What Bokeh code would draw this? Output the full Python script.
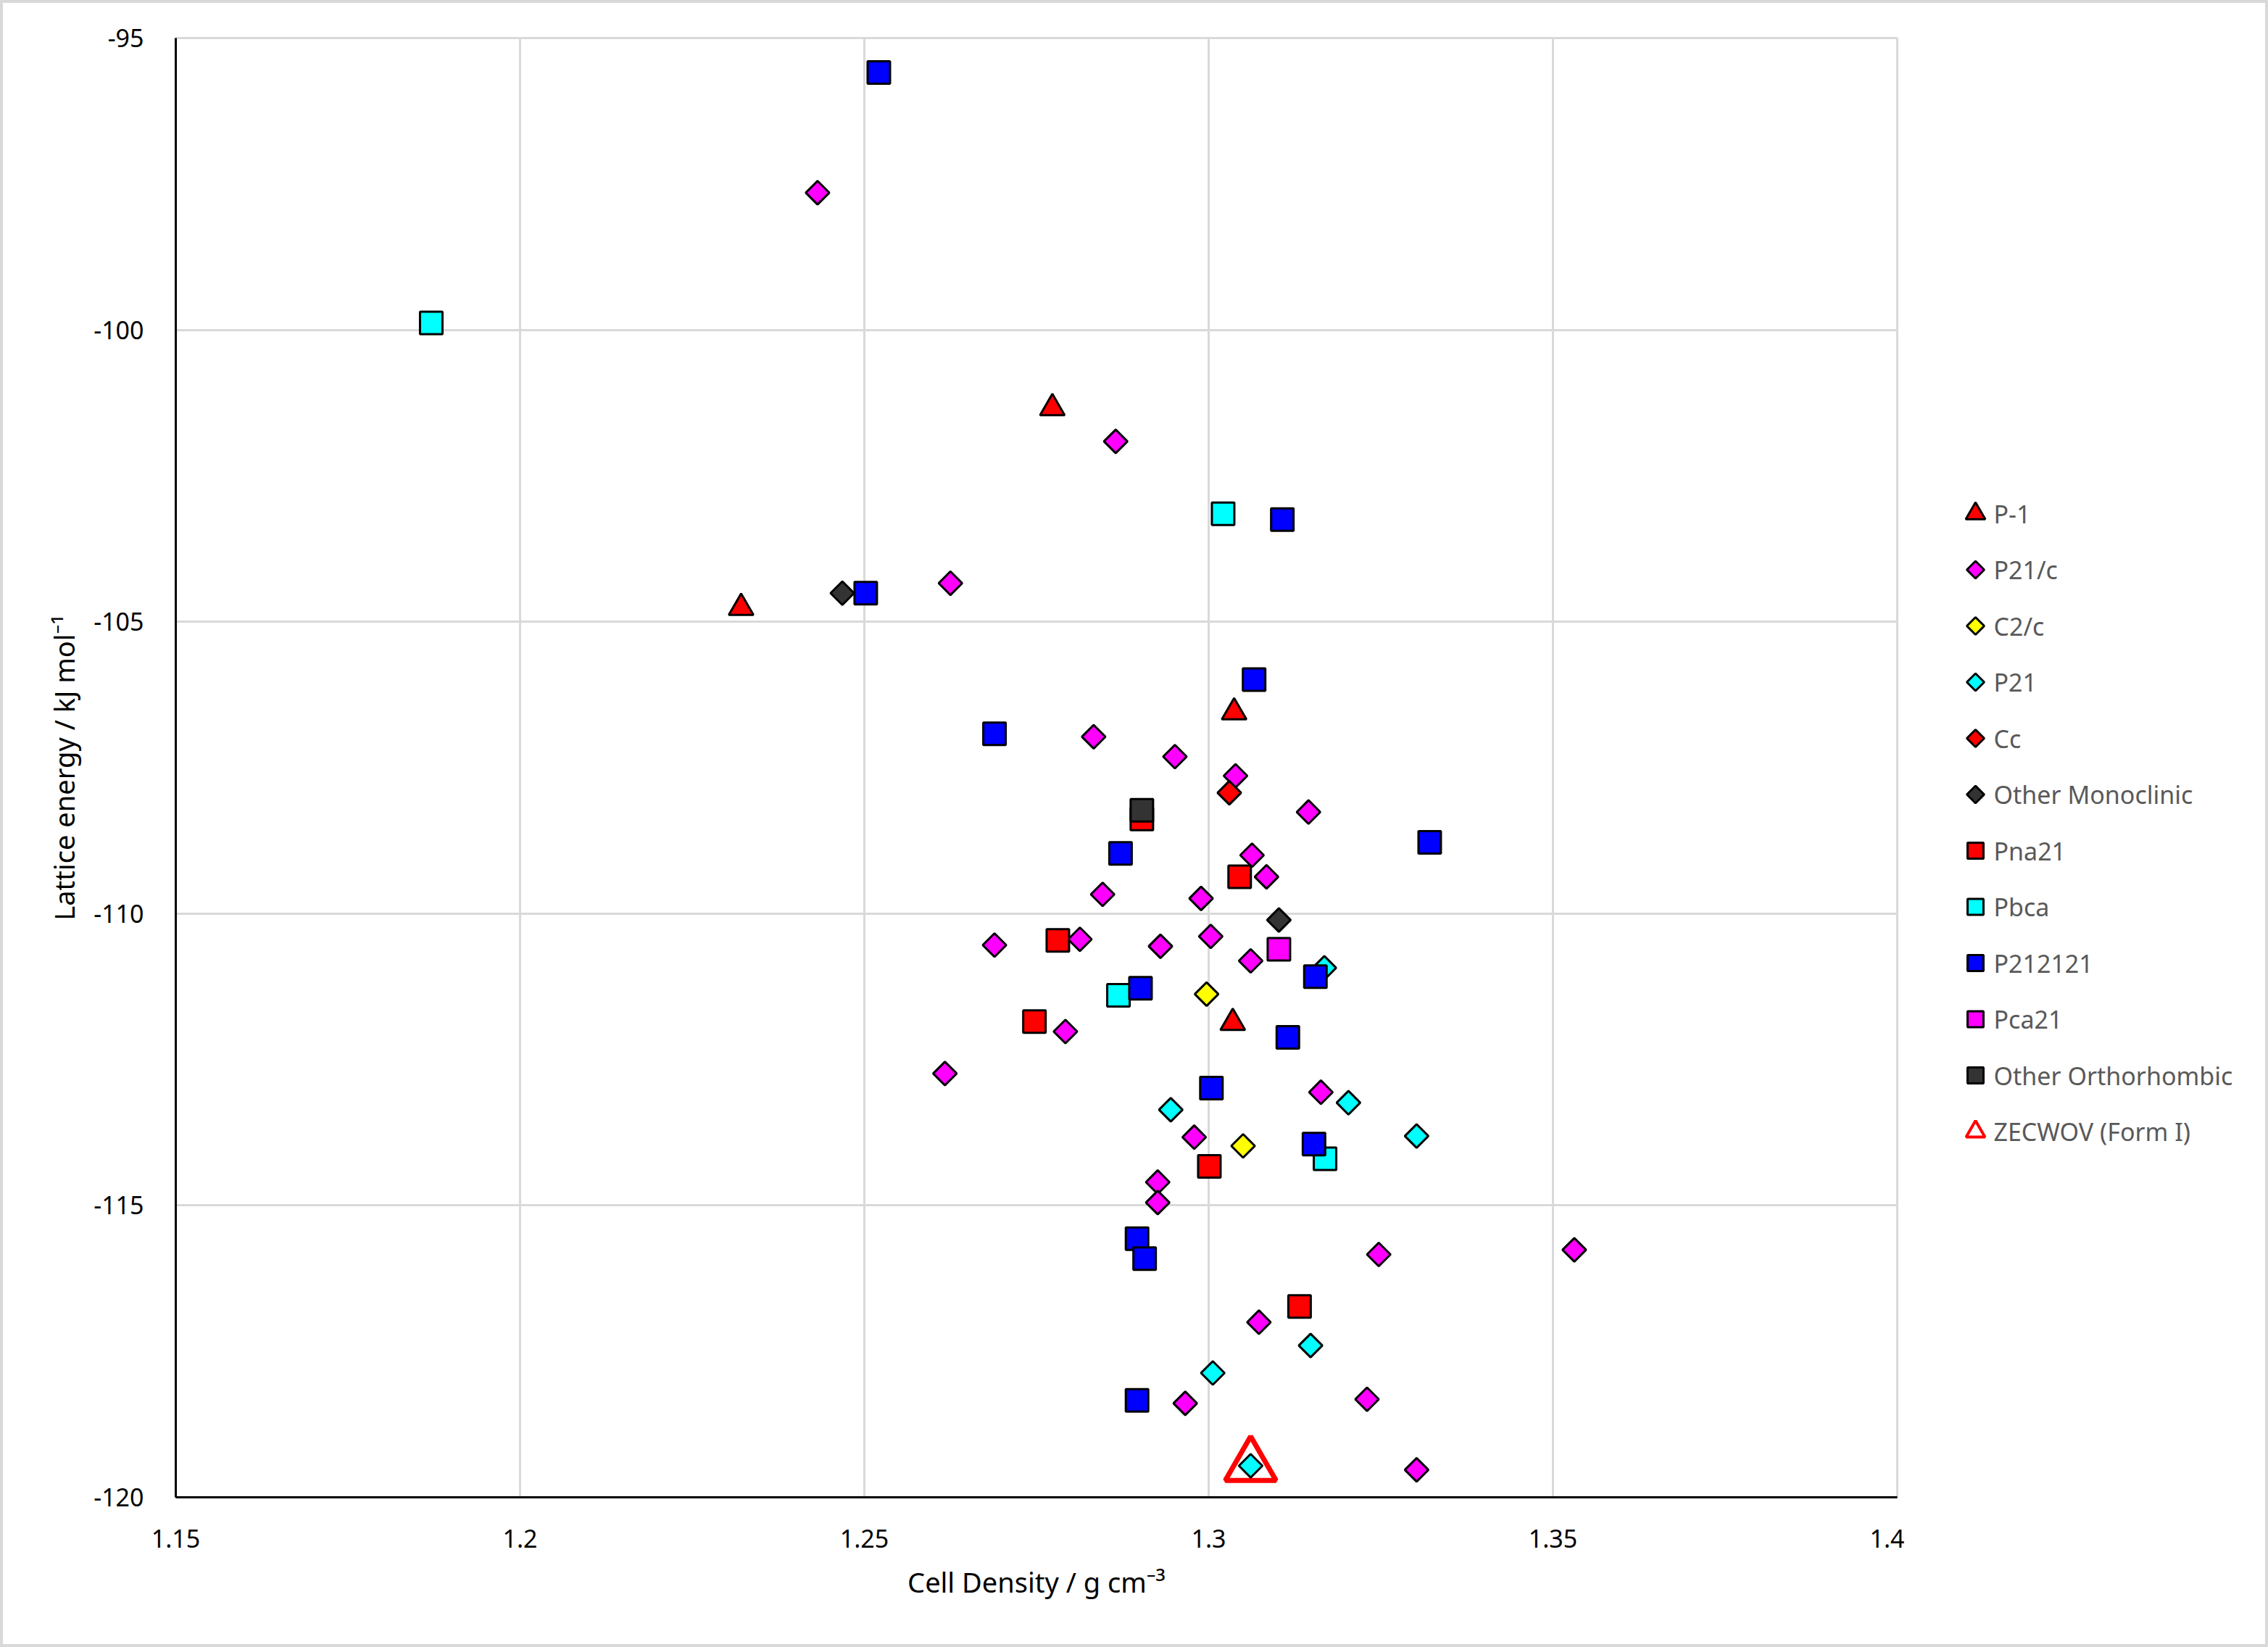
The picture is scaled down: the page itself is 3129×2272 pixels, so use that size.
import numpy as np
from bokeh.plotting import figure
from bokeh.models import Range1d, FixedTicker, ColumnDataSource, Row
from bokeh.core.properties import value
from bokeh.embed import file_html
from bokeh.resources import INLINE

# ---------------- data ----------------
x_ticks = [1.15, 1.2, 1.25, 1.3, 1.35, 1.4]
x_tick_labels = ["1.15", "1.2", "1.25", "1.3", "1.35", "1.4"]
y_ticks = [-120, -115, -110, -105, -100, -95]
y_tick_labels = ["-120", "-115", "-110", "-105", "-100", "-95"]

p1_density = [1.2773, 1.2321, 1.3037, 1.3035]
p1_energy = [-101.34, -104.76, -106.55, -111.87]

p21c_density = [1.2432, 1.2865, 1.2625, 1.2833, 1.2951, 1.3039, 1.3145, 1.3063, 1.3084,
                1.2846, 1.2989, 1.3003, 1.2689, 1.2813, 1.2930, 1.3061, 1.2792, 1.2617,
                1.3163, 1.2979, 1.2926, 1.2926, 1.3247, 1.3531, 1.3073, 1.2966, 1.3230, 1.3302]
p21c_energy = [-97.65, -101.91, -104.34, -106.97, -107.31, -107.64, -108.26, -109.00, -109.37,
               -109.67, -109.74, -110.39, -110.54, -110.44, -110.56, -110.81, -112.02, -112.74,
               -113.06, -113.83, -114.60, -114.95, -115.84, -115.76, -117.00, -118.39, -118.32, -119.53]

c2c_density = [1.2997, 1.3050]
c2c_energy = [-111.38, -113.98]

p21_density = [1.3168, 1.2945, 1.3203, 1.3302, 1.3148, 1.3006, 1.3061]
p21_energy = [-110.93, -113.36, -113.24, -113.81, -117.40, -117.87, -119.46]

cc_density = [1.3030]
cc_energy = [-107.93]

omono_density = [1.2468, 1.3102]
omono_energy = [-104.51, -110.11]

pna21_density = [1.2903, 1.3045, 1.2781, 1.2747, 1.3001, 1.3132]
pna21_energy = [-108.38, -109.37, -110.46, -111.85, -114.33, -116.73]

pbca_density = [1.1871, 1.3021, 1.2869, 1.3169]
pbca_energy = [-99.88, -103.15, -111.40, -114.20]

p212121_density = [1.2521, 1.2502, 1.3107, 1.3066, 1.2689, 1.2872, 1.3321, 1.2901, 1.3155,
                   1.3115, 1.3004, 1.3153, 1.2896, 1.2907, 1.2896]
p212121_energy = [-95.59, -104.51, -103.25, -105.99, -106.92, -108.97, -108.78, -111.28, -111.08,
                  -112.12, -112.99, -113.95, -115.57, -115.91, -118.34]

pca21_density = [1.3102]
pca21_energy = [-110.61]

oortho_density = [1.2903]
oortho_energy = [-108.23]

formI_density = [1.3061]
formI_energy = [-119.46]

# ---------------- styles ----------------
FONT = "Noto Sans"
GRID = "#D9D9D9"

DIAM = dict(marker="square", angle=np.pi / 4, size=23, line_color="black", line_width=3)
SQ = dict(marker="square", size=31, line_color="black", line_width=3)
TRI = dict(marker="triangle", size=34, line_color="black", line_width=3)
OPEN_TRI = dict(marker="triangle", size=70, fill_color=None, line_color="#FF0000", line_width=7)

# legend-sized versions
L_DIAM = dict(marker="square", angle=np.pi / 4, size=17, line_color="black", line_width=3)
L_SQ = dict(marker="square", size=22, line_color="black", line_width=3)
L_TRI = dict(marker="triangle", size=27, line_color="black", line_width=3)
L_OPEN_TRI = dict(marker="triangle", size=26, fill_color=None, line_color="#FF0000", line_width=4)

series = [
    ("P-1", p1_density, p1_energy, TRI, L_TRI, "#FF0000"),
    ("P21/c", p21c_density, p21c_energy, DIAM, L_DIAM, "#FF00FF"),
    ("C2/c", c2c_density, c2c_energy, DIAM, L_DIAM, "#FFFF00"),
    ("P21", p21_density, p21_energy, DIAM, L_DIAM, "#00FFFF"),
    ("Cc", cc_density, cc_energy, DIAM, L_DIAM, "#FF0000"),
    ("Other Monoclinic", omono_density, omono_energy, DIAM, L_DIAM, "#333333"),
    ("Pna21", pna21_density, pna21_energy, SQ, L_SQ, "#FF0000"),
    ("Pbca", pbca_density, pbca_energy, SQ, L_SQ, "#00FFFF"),
    ("P212121", p212121_density, p212121_energy, SQ, L_SQ, "#0000FF"),
    ("Pca21", pca21_density, pca21_energy, SQ, L_SQ, "#FF00FF"),
    ("Other Orthorhombic", oortho_density, oortho_energy, SQ, L_SQ, "#333333"),
]

# ---------------- main chart ----------------
W_MAIN, W_LEG, H = 2623, 498, 2264
B_TOP, B_BOTTOM = 48, 203

p = figure(width=W_MAIN, height=H,
           x_range=Range1d(1.15, 1.4), y_range=Range1d(-120, -95),
           output_backend="svg", toolbar_location=None,
           min_border_left=238, min_border_right=10,
           min_border_top=B_TOP, min_border_bottom=B_BOTTOM)
p.title.visible = False
p.background_fill_color = "white"
p.border_fill_color = "white"
p.outline_line_color = GRID
p.outline_line_width = 3

p.xaxis.ticker = FixedTicker(ticks=x_ticks)
p.xaxis.major_label_overrides = dict(zip(x_ticks, x_tick_labels))
p.yaxis.ticker = FixedTicker(ticks=y_ticks)
p.yaxis.major_label_overrides = dict(zip(y_ticks, y_tick_labels))

for ax in (p.xaxis, p.yaxis):
    ax.axis_line_color = "black"
    ax.axis_line_width = 3
    ax.major_tick_line_color = None
    ax.minor_tick_line_color = None
    ax.major_label_text_font = FONT
    ax.major_label_text_font_size = "34px"
    ax.major_label_text_color = "black"
    ax.major_label_standoff = 38
    ax.axis_label_text_font = FONT
    ax.axis_label_text_font_size = "38px"
    ax.axis_label_text_font_style = "normal"
    ax.axis_label_text_color = "black"

p.xaxis.axis_label = "Cell Density / g cm\u207b\u00b3"
p.yaxis.axis_label = "Lattice energy / kJ mol\u207b\u00b9"
p.xaxis.axis_label_standoff = 18
p.yaxis.axis_label_standoff = 12

p.xgrid.ticker = FixedTicker(ticks=x_ticks)
p.ygrid.ticker = FixedTicker(ticks=y_ticks)
p.grid.grid_line_color = GRID
p.grid.grid_line_width = 3

# Form I drawn first (underneath the others)
p.scatter(formI_density, formI_energy, **OPEN_TRI)

for name, xs, ys, style, lstyle, fill in series:
    src = ColumnDataSource(dict(x=xs, y=ys))
    p.scatter("x", "y", source=src, fill_color=fill, **style)

# ---------------- legend panel ----------------
# the Row aligns this frame with the main chart's frame, so its y range is
# expressed in canvas pixels of that frame (top = B_TOP, bottom = H - B_BOTTOM)
leg = figure(width=W_LEG, height=H,
             x_range=Range1d(0, W_LEG), y_range=Range1d(H - B_BOTTOM, B_TOP),
             output_backend="svg", toolbar_location=None,
             x_axis_location=None, y_axis_location=None,
             min_border_left=0, min_border_right=0, min_border_top=0, min_border_bottom=0)
leg.title.visible = False
leg.grid.visible = False
leg.outline_line_color = None
leg.background_fill_color = "white"
leg.border_fill_color = "white"

LEG_TOP, LEG_STEP, LEG_GLYPH_X, LEG_TEXT_X = 704, 77.5, 98, 123
legend_labels = [s[0] for s in series] + ["ZECWOV (Form I)"]
legend_y = [LEG_TOP + i * LEG_STEP for i in range(len(legend_labels))]

for i, (name, xs, ys, style, lstyle, fill) in enumerate(series):
    leg.scatter([LEG_GLYPH_X], [legend_y[i]], fill_color=fill, **lstyle)
leg.scatter([LEG_GLYPH_X], [legend_y[-1]], **L_OPEN_TRI)

leg.text(x=[LEG_TEXT_X] * len(legend_labels), y=legend_y, text=legend_labels,
         text_font=value(FONT), text_font_size="34px", text_color="#595959",
         text_baseline="middle", text_align="left")

layout = Row(children=[p, leg], spacing=0)
layout.styles = {"border": "4px solid #D9D9D9"}

open("out.html", "w").write(file_html(layout, INLINE))
